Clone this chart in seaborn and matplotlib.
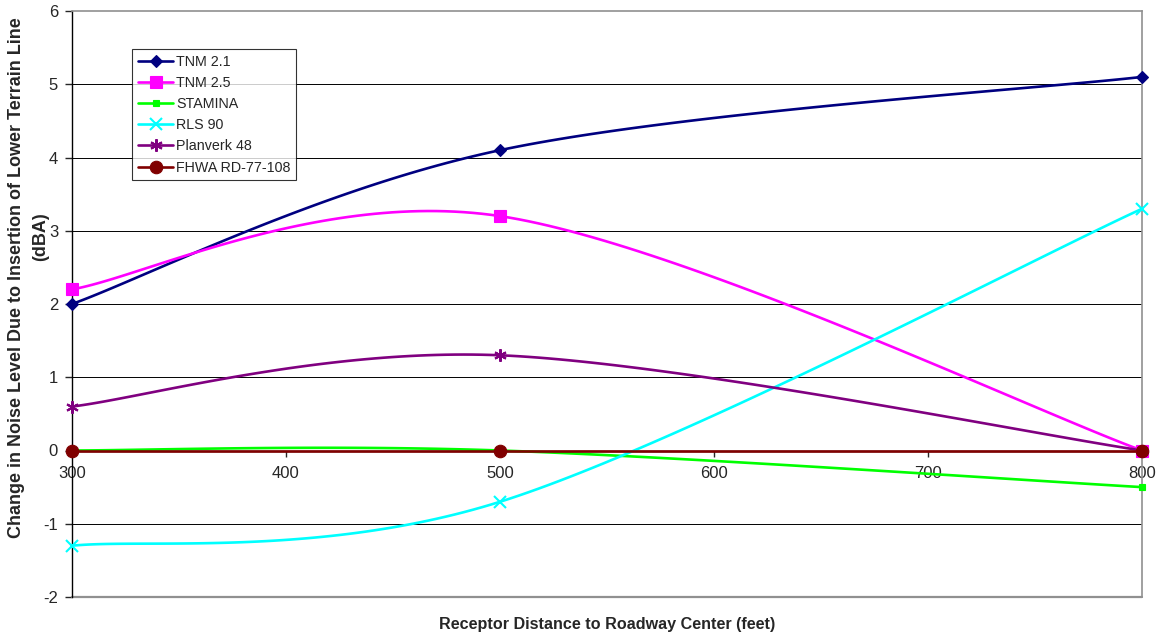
import numpy as np
import pandas as pd
import matplotlib
matplotlib.use("Agg")
import matplotlib.pyplot as plt
from matplotlib.lines import Line2D
import seaborn as sns

# Receptor distances (feet) and change in noise level (dBA) per model
distance = [300, 500, 800]
tnm21 = [2.0, 4.1, 5.1]
tnm25 = [2.2, 3.2, 0.0]
stamina = [0.0, 0.0, -0.5]
rls90 = [-1.3, -0.7, 3.3]
planverk48 = [0.6, 1.3, 0.0]
fhwa = [0.0, 0.0, 0.0]

series_names = ["TNM 2.1", "TNM 2.5", "STAMINA", "RLS 90", "Planverk 48", "FHWA RD-77-108"]
series_values = [tnm21, tnm25, stamina, rls90, planverk48, fhwa]

colors = ["#000080", "#FF00FF", "#00FF00", "#00FFFF", "#800080", "#800000"]
markers = ["D", "s", "s", "x", (6, 2, 0), "o"]
msizes = [6, 8, 4, 9, 9, 9]


def smooth_curve(xs, ys, n=60):
    """Bezier smoothing through the points (spreadsheet-style smoothed line)."""
    pts = np.column_stack([xs, ys]).astype(float)
    ext = np.vstack([pts[0], pts, pts[-1]])
    out = []
    t = np.linspace(0, 1, n)[:, None]
    for i in range(len(pts) - 1):
        p0, p1, p2, p3 = ext[i], ext[i + 1], ext[i + 2], ext[i + 3]
        c1 = p1 + (p2 - p0) / 6.0
        c2 = p2 - (p3 - p1) / 6.0
        seg = ((1 - t) ** 3) * p1 + 3 * ((1 - t) ** 2) * t * c1 + 3 * (1 - t) * t ** 2 * c2 + t ** 3 * p2
        out.append(seg if i == 0 else seg[1:])
    seg = np.vstack(out)
    return seg[:, 0], seg[:, 1]


rows = []
for name, vals in zip(series_names, series_values):
    sx, sy = smooth_curve(distance, vals)
    for k, (a, b) in enumerate(zip(sx, sy)):
        rows.append({"model": name, "order": k, "distance": a, "change": b})
curves = pd.DataFrame(rows)

sns.set_style("white")
plt.rcParams["font.family"] = ["Liberation Sans", "DejaVu Sans"]
plt.rcParams["axes.unicode_minus"] = False

fig = plt.figure(figsize=(11.63, 6.41), dpi=100)
ax = fig.add_axes([72 / 1163, 1 - 597 / 641, 1070 / 1163, 586 / 641])

sns.lineplot(data=curves, x="distance", y="change", hue="model", hue_order=series_names,
             palette=colors, sort=False, estimator=None, units="model",
             linewidth=1.9, legend=False, ax=ax, zorder=3)

for name, vals, c, m, ms in zip(series_names, series_values, colors, markers, msizes):
    ax.plot(distance, vals, linestyle="none", marker=m, markersize=ms, color=c,
            markeredgecolor=c, markeredgewidth=1.5 if m in ("x", (6, 2, 0)) else 0.8,
            zorder=4, clip_on=False)

ax.set_xlim(300, 800)
ax.set_ylim(-2, 6)
ax.set_xticks(range(300, 801, 100))
ax.set_yticks(range(-2, 7))

# horizontal gridlines at interior values
for yv in range(-1, 6):
    ax.axhline(yv, color="black", linewidth=0.7, zorder=1)

# plot area frame
for side in ("top", "right"):
    ax.spines[side].set_color("#909090")
    ax.spines[side].set_linewidth(1.2)
ax.spines["left"].set_color("black")
ax.spines["left"].set_linewidth(1.0)
ax.spines["bottom"].set_position(("data", 0))
ax.spines["bottom"].set_color("black")
ax.spines["bottom"].set_linewidth(1.0)
ax.axhline(-2, color="#909090", linewidth=1.6, zorder=1, clip_on=False)

ax.tick_params(axis="y", direction="out", length=5, width=1, labelsize=12, pad=5, left=True)
ax.tick_params(axis="x", direction="out", length=4, width=1, labelsize=12, pad=7, bottom=True)
ax.set_xlabel("")
ax.set_ylabel("")

fig.text((72 + 1142) / 2 / 1163, 1 - 625 / 641, "Receptor Distance to Roadway Center (feet)",
         ha="center", va="center", fontsize=11.6, fontweight="bold")
# y-axis title, set as two rotated lines
fig.text(17 / 1163, 1 - 278 / 641,
         "Change in Noise Level Due to Insertion of Lower Terrain Line",
         ha="center", va="center", rotation=90, fontsize=13, fontweight="bold")
fig.text(41 / 1163, 1 - 237 / 641, "(dBA)",
         ha="center", va="center", rotation=90, fontsize=13, fontweight="bold")

handles = [Line2D([0], [0], color=c, linewidth=1.9, marker=m, markersize=ms,
                  markeredgewidth=1.5 if m in ("x", (6, 2, 0)) else 0.8)
           for c, m, ms in zip(colors, markers, msizes)]
leg = ax.legend(handles, series_names, loc="upper left", bbox_to_anchor=(0.056, 0.935),
                borderaxespad=0, frameon=True, fancybox=False, fontsize=10.3,
                handlelength=2.5, handletextpad=0.2, labelspacing=0.5,
                borderpad=0.4)
leg.get_frame().set_edgecolor("black")
leg.get_frame().set_linewidth(0.8)
leg.set_zorder(10)

fig.savefig("out.png", dpi=100)
